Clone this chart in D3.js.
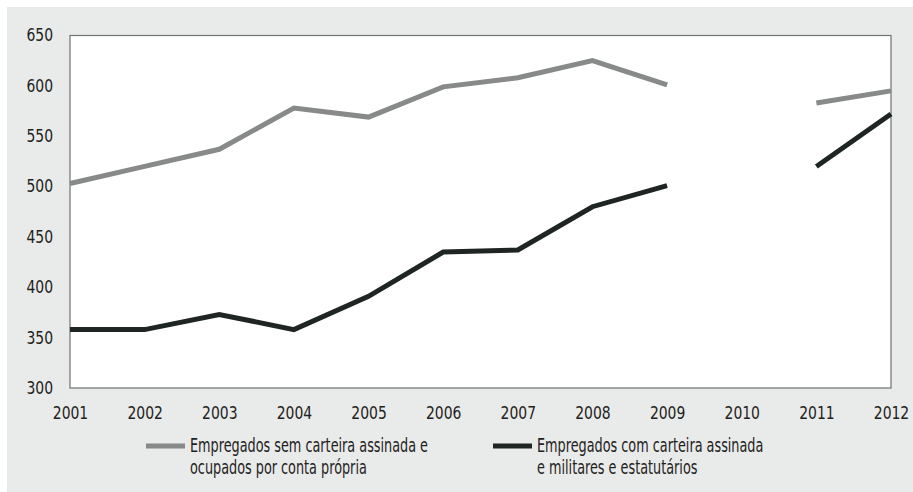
<!DOCTYPE html>
<html>
<head>
<meta charset="utf-8">
<script src="https://cdn.jsdelivr.net/npm/d3@7"></script>
<style>
  body { margin: 0; background: #fff; }
  text { font-family: "DejaVu Sans Condensed", "DejaVu Sans", sans-serif; font-stretch: condensed; fill: #1e2321; }
</style>
</head>
<body>
<div id="chart"></div>
<script>
// data (2010 has no value)
var years = [2001, 2002, 2003, 2004, 2005, 2006, 2007, 2008, 2009, 2010, 2011, 2012];
var semCarteira = [503, 520, 537, 578, 569, 599, 608, 625, 601, null, 583, 595];
var comCarteira = [358, 358, 373, 358, 391, 435, 437, 480, 501, null, 520, 572];
var yTicks = [300, 350, 400, 450, 500, 550, 600, 650];
var legendLabels = [
    ["Empregados sem carteira assinada e", "ocupados por conta própria"],
    ["Empregados com carteira assinada", "e militares e estatutários"]
];

var W = 913, H = 492;
var margin = { top: 35.5, right: 22, bottom: 104, left: 70 },
    width = W - margin.left - margin.right,
    height = H - margin.top - margin.bottom;

// the original font is narrower than anything installed, so squeeze the glyphs
function squeeze(sel, k) {
    sel.each(function () {
        var len = this.getComputedTextLength();
        d3.select(this)
            .attr("textLength", len * k)
            .attr("lengthAdjust", "spacingAndGlyphs");
    });
}

var svg = d3.select("#chart").append("svg")
    .attr("width", W)
    .attr("height", H);

svg.append("rect")
    .attr("x", 7).attr("y", 7)
    .attr("width", W - 7).attr("height", H - 7)
    .attr("fill", "#e9eaea");

var g = svg.append("g")
    .attr("transform", "translate(" + margin.left + "," + margin.top + ")");

var x = d3.scalePoint()
    .domain(years)
    .range([0, width]);
var y = d3.scaleLinear()
    .domain([300, 650])
    .range([height, 0]);

g.append("rect")
    .attr("width", width)
    .attr("height", height)
    .attr("fill", "#fff")
    .attr("stroke", "#6f7271")
    .attr("stroke-width", 1.2);

// y axis
var yAxis = g.append("g")
    .attr("font-family", null)
    .call(d3.axisLeft(y).tickValues(yTicks).tickSize(0).tickPadding(17));
yAxis.select(".domain").remove();
yAxis.selectAll("text")
    .style("font-size", "18px")
    .attr("dy", "0.3em")
    .call(squeeze, 0.86);

// x axis
var xAxis = g.append("g")
    .attr("transform", "translate(0," + height + ")")
    .call(d3.axisBottom(x).tickSize(0).tickPadding(18));
xAxis.select(".domain").remove();
xAxis.selectAll("text")
    .style("font-size", "18px")
    .call(squeeze, 0.86);
svg.selectAll("g").attr("font-family", null);

var line = d3.line()
    .defined(function (d) { return d != null; })
    .x(function (d, i) { return x(years[i]); })
    .y(function (d) { return y(d); });

g.append("path")
    .datum(semCarteira)
    .attr("fill", "none")
    .attr("stroke", "#878a89")
    .attr("stroke-width", 5)
    .attr("d", line);

g.append("path")
    .datum(comCarteira)
    .attr("fill", "none")
    .attr("stroke", "#1e2522")
    .attr("stroke-width", 5)
    .attr("d", line);

// legend
var legendColors = ["#878a89", "#1e2522"];
var legendX = [146, 493];
legendLabels.forEach(function (lab, i) {
    var lg = svg.append("g")
        .attr("transform", "translate(" + legendX[i] + ",446)");
    lg.append("line")
        .attr("x1", 0).attr("x2", 39)
        .attr("stroke", legendColors[i])
        .attr("stroke-width", 5);
    lg.append("text")
        .attr("y", 6)
        .style("font-size", "19px")
        .selectAll("tspan")
        .data(lab)
        .enter().append("tspan")
        .attr("x", 44)
        .attr("dy", function (d, j) { return j ? 21.5 : 0; })
        .text(function (d) { return d; })
        .call(squeeze, 0.75);
});
</script>
</body>
</html>
